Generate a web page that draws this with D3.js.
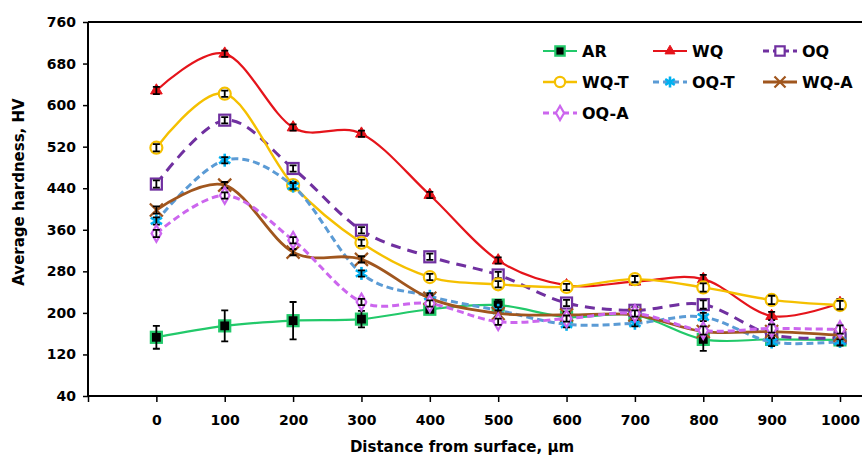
<!DOCTYPE html>
<html>
<head>
<meta charset="utf-8">
<script src="https://cdn.jsdelivr.net/npm/d3@7"></script>
<style>
  body { margin: 0; background: #fff; }
  svg { display: block; font-family: "DejaVu Sans", Verdana, sans-serif; font-weight: bold; }
</style>
</head>
<body>
<svg id="chart" width="862" height="459"></svg>
<script>
// hardness profiles, HV vs distance from surface
const distances = [0, 100, 200, 300, 400, 500, 600, 700, 800, 900, 1000];
const AR   = [153, 175, 185, 188, 207, 215, 192, 196, 149, 149, 148];
const WQ   = [628, 699, 557, 545, 427, 301, 253, 260, 265, 194, 219];
const OQ   = [448, 571, 478, 359, 308, 273, 219, 205, 216, 158, 152];
const WQ_T = [518, 622, 446, 335, 269, 255, 250, 265, 249, 225, 215];
const OQ_T = [377, 494, 444, 276, 232, 205, 178, 180, 192, 144, 145];
const WQ_A = [398, 446, 317, 303, 228, 199, 196, 196, 164, 164, 157];
const OQ_A = [353, 426, 340, 221, 218, 183, 189, 199, 166, 170, 168];

const errAR = [22, 30, 36, 16, 6, 10, 6, 6, 22, 8, 8];
const errOthers = [7, 6, 6, 6, 6, 6, 6, 6, 8, 8, 8];

const yTicks = [40, 120, 200, 280, 360, 440, 520, 600, 680, 760];
const xTicks = [-100, 0, 100, 200, 300, 400, 500, 600, 700, 800, 900, 1000];

const series = [
  { name: "AR",   values: AR,   err: errAR,     color: "#22c96a", dash: null,   w: 2.2, marker: "square", mfill: "#000" },
  { name: "WQ",   values: WQ,   err: errOthers, color: "#e5141b", dash: null,   w: 2.2, marker: "triangle", mfill: "#e5141b" },
  { name: "OQ",   values: OQ,   err: errOthers, color: "#7030a0", dash: "10,7", w: 3,   marker: "square", mfill: "#fff" },
  { name: "WQ-T", values: WQ_T, err: errOthers, color: "#f5c000", dash: null,   w: 2.4, marker: "circle", mfill: "#fff" },
  { name: "OQ-T", values: OQ_T, err: errOthers, color: "#5b9bd5", dash: "7,4",  w: 3,   marker: "star", mfill: "#00b0f0" },
  { name: "WQ-A", values: WQ_A, err: errOthers, color: "#a0561e", dash: null,   w: 2.8, marker: "cross", mfill: "#a0561e" },
  { name: "OQ-A", values: OQ_A, err: errOthers, color: "#cc66ee", dash: "7,4",  w: 3,   marker: "diamond", mfill: "#fff" }
];

const svg = d3.select("#chart");
const x = d3.scaleLinear().domain([-100, 1000]).range([88, 840]);
const y = d3.scaleLinear().domain([40, 760]).range([396, 22]);

// axes
const xAxis = svg.append("g").attr("transform", "translate(0,396)")
  .call(d3.axisBottom(x).tickValues(xTicks).tickSize(6).tickFormat(d => d < 0 ? "" : d));
xAxis.select(".domain").remove();
xAxis.selectAll("text").attr("font-size", 14).attr("font-weight", "bold").attr("font-family", "DejaVu Sans").attr("dy", "1.45em");
xAxis.selectAll("line").attr("stroke", "#000").attr("stroke-width", 1.5);

const yAxis = svg.append("g").attr("transform", "translate(88,0)")
  .call(d3.axisLeft(y).tickValues(yTicks).tickSize(5));
yAxis.select(".domain").remove();
yAxis.selectAll("text").attr("font-size", 14).attr("font-weight", "bold").attr("font-family", "DejaVu Sans").attr("x", -12);
yAxis.selectAll("line").attr("stroke", "#000").attr("stroke-width", 1.5);

svg.append("line").attr("x1", 88).attr("x2", 862).attr("y1", 396).attr("y2", 396).attr("stroke", "#000").attr("stroke-width", 2);
svg.append("line").attr("x1", 88).attr("x2", 862).attr("y1", 22).attr("y2", 22).attr("stroke", "#000").attr("stroke-width", 2);
svg.append("line").attr("x1", 88).attr("x2", 88).attr("y1", 22).attr("y2", 396).attr("stroke", "#000").attr("stroke-width", 2);

svg.append("text").attr("x", 462).attr("y", 452).attr("text-anchor", "middle")
  .attr("font-size", 15).text("Distance from surface, μm");
svg.append("text").attr("transform", "translate(24,192) rotate(-90)").attr("text-anchor", "middle")
  .attr("font-size", 15).text("Average hardness, HV");

function drawMarker(g, s, cx, cy, scale) {
  const k = scale || 1;
  if (s.marker === "square") {
    g.append("rect").attr("x", cx - 5.5 * k).attr("y", cy - 5.5 * k).attr("width", 11 * k).attr("height", 11 * k)
      .attr("fill", s.mfill).attr("stroke", s.color).attr("stroke-width", 2.2);
  } else if (s.marker === "triangle") {
    g.append("path").attr("d", d3.symbol(d3.symbolTriangle, 60 * k * k)()).attr("transform", `translate(${cx},${cy})`)
      .attr("fill", s.mfill).attr("stroke", s.color).attr("stroke-width", 1);
  } else if (s.marker === "circle") {
    g.append("circle").attr("cx", cx).attr("cy", cy).attr("r", 6 * k)
      .attr("fill", s.mfill).attr("stroke", s.color).attr("stroke-width", 2.2);
  } else if (s.marker === "diamond") {
    g.append("path").attr("d", d3.symbol(d3.symbolDiamond, 80 * k * k)()).attr("transform", `translate(${cx},${cy})`)
      .attr("fill", s.mfill).attr("stroke", s.color).attr("stroke-width", 2.2);
  } else if (s.marker === "star") {
    const r = 6.5 * k;
    [0, 60, 120].forEach(a => {
      const rad = a * Math.PI / 180;
      g.append("line").attr("x1", cx - r * Math.sin(rad)).attr("y1", cy - r * Math.cos(rad))
        .attr("x2", cx + r * Math.sin(rad)).attr("y2", cy + r * Math.cos(rad))
        .attr("stroke", s.mfill).attr("stroke-width", 2.6);
    });
  } else if (s.marker === "cross") {
    const r = 6.5 * k;
    g.append("path").attr("d", `M${cx - r},${cy - r}L${cx + r},${cy + r}M${cx - r},${cy + r}L${cx + r},${cy - r}`)
      .attr("stroke", s.mfill).attr("stroke-width", 2.2);
  }
}

const line = d3.line().x((d, i) => x(distances[i])).y(d => y(d)).curve(d3.curveCatmullRom.alpha(0));

series.forEach(s => {
  const g = svg.append("g").attr("class", "series");
  g.append("path").attr("d", line(s.values)).attr("fill", "none")
    .attr("stroke", s.color).attr("stroke-width", s.w)
    .attr("stroke-dasharray", s.dash);
  s.values.forEach((v, i) => drawMarker(g, s, x(distances[i]), y(v)));
  // error bars
  s.values.forEach((v, i) => {
    const cx = x(distances[i]), y1 = y(v + s.err[i]), y2 = y(v - s.err[i]);
    g.append("path").attr("d", `M${cx},${y1}V${y2}M${cx - 3.5},${y1}H${cx + 3.5}M${cx - 3.5},${y2}H${cx + 3.5}`)
      .attr("stroke", "#000").attr("stroke-width", 1.8).attr("fill", "none");
  });
});

// legend
const legendPos = [[543, 51], [653, 51], [763, 51], [543, 82], [653, 82], [763, 82], [543, 113]];
series.forEach((s, i) => {
  const [lx, ly] = legendPos[i];
  const g = svg.append("g");
  g.append("line").attr("x1", lx).attr("x2", lx + 34).attr("y1", ly).attr("y2", ly)
    .attr("stroke", s.color).attr("stroke-width", s.w).attr("stroke-dasharray", s.dash ? "6,4" : null);
  const lf = s.name === "AR" ? "#000" : (s.marker === "star" || s.marker === "cross" || s.marker === "triangle" ? s.mfill : "#fff");
  drawMarker(g, Object.assign({}, s, { mfill: lf }), lx + 17, ly, 0.85);
  g.append("text").attr("x", lx + 39).attr("y", ly).attr("dy", "0.36em")
    .attr("font-size", 16).text(s.name);
});
</script>
</body>
</html>
